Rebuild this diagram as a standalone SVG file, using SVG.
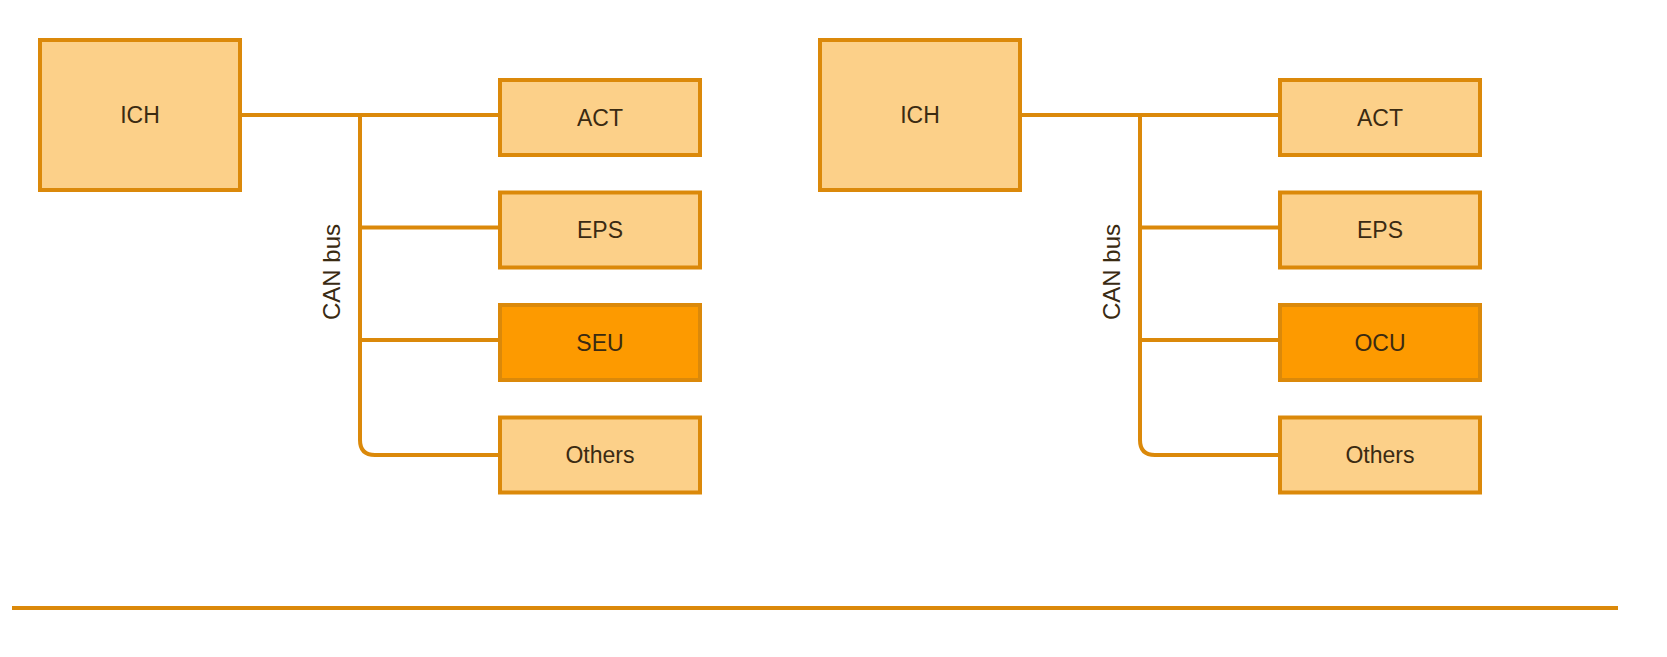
<svg xmlns="http://www.w3.org/2000/svg" width="1667" height="657" viewBox="0 0 1667 657">
<style>
  .box { fill: #fcd089; stroke: #db890a; stroke-width: 4; }
  .hi { fill: #fd9a00; }
  .wire { fill: none; stroke: #db890a; stroke-width: 4; }
  .lbl { font-family: "Liberation Sans", Arial, sans-serif; font-size: 23px; fill: #3a2a12; text-anchor: middle; }
  .bus { font-size: 24px; }
</style>
<rect width="1667" height="657" fill="#ffffff"/>
<g id="connectors">
  <path class="wire" d="M240 115 H500 M360 115 V440 Q360 455 375 455 H500 M360 227.5 H500 M360 340 H500"/>
  <path class="wire" d="M1020 115 H1280 M1140 115 V440 Q1140 455 1155 455 H1280 M1140 227.5 H1280 M1140 340 H1280"/>
  <path class="wire" d="M12 608 H1618"/>
</g>
<g id="can-label-left"><text class="lbl bus" transform="translate(339.5 272) rotate(-90)">CAN bus</text></g>
<g id="can-label-right"><text class="lbl bus" transform="translate(1119.5 272) rotate(-90)">CAN bus</text></g>
<g id="ich-left"><rect class="box" x="40" y="40" width="200" height="150"/><text class="lbl" x="140" y="123">ICH</text></g>
<g id="act-left"><rect class="box" x="500" y="80" width="200" height="75"/><text class="lbl" x="600" y="125.5">ACT</text></g>
<g id="eps-left"><rect class="box" x="500" y="192.5" width="200" height="75"/><text class="lbl" x="600" y="238">EPS</text></g>
<g id="seu-left"><rect class="box hi" x="500" y="305" width="200" height="75"/><text class="lbl" x="600" y="350.5">SEU</text></g>
<g id="others-left"><rect class="box" x="500" y="417.5" width="200" height="75"/><text class="lbl" x="600" y="463">Others</text></g>
<g id="ich-right"><rect class="box" x="820" y="40" width="200" height="150"/><text class="lbl" x="920" y="123">ICH</text></g>
<g id="act-right"><rect class="box" x="1280" y="80" width="200" height="75"/><text class="lbl" x="1380" y="125.5">ACT</text></g>
<g id="eps-right"><rect class="box" x="1280" y="192.5" width="200" height="75"/><text class="lbl" x="1380" y="238">EPS</text></g>
<g id="ocu-right"><rect class="box hi" x="1280" y="305" width="200" height="75"/><text class="lbl" x="1380" y="350.5">OCU</text></g>
<g id="others-right"><rect class="box" x="1280" y="417.5" width="200" height="75"/><text class="lbl" x="1380" y="463">Others</text></g>
</svg>
